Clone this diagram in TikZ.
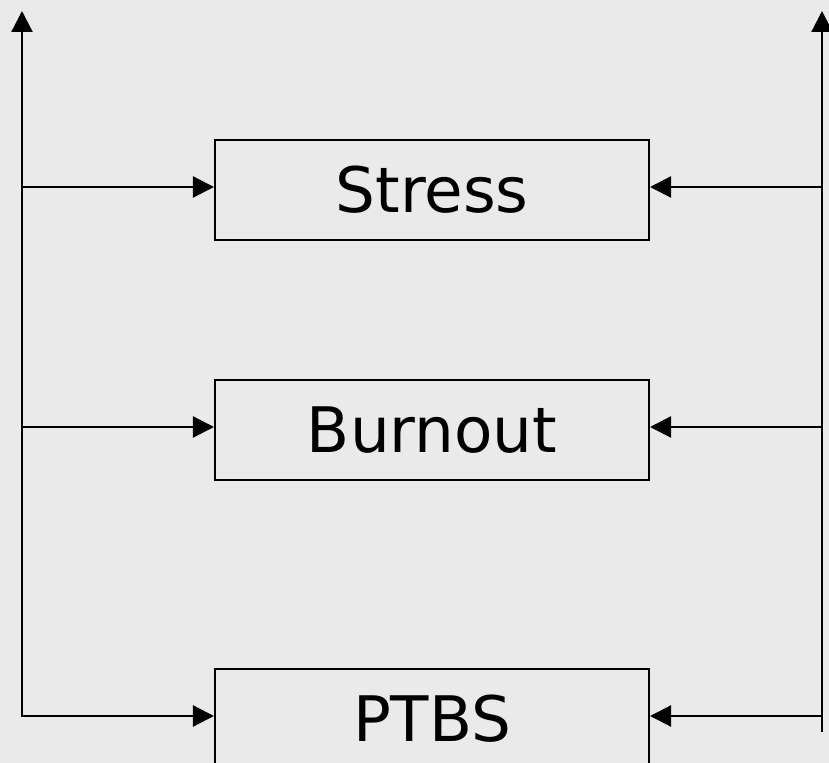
\documentclass[tikz,border=0pt]{standalone}
\usepackage{fontspec}
\setmainfont{DejaVu Sans}
\usetikzlibrary{arrows.meta}
\definecolor{bgc}{HTML}{EAEAEA}
\begin{document}
\begin{tikzpicture}[x=1bp,y=1bp,
  box/.style={draw, line width=2bp, minimum width=434bp, minimum height=100bp, inner sep=0pt, font=\fontsize{63}{70}\selectfont},
  tip/.tip={Triangle[length=21bp,width=21bp]},
  link/.style={line width=2.2bp, -tip}]
\useasboundingbox (0,0) rectangle (829,763);
\fill[bgc] (0,0) rectangle (829,763);
\clip (0,0) rectangle (829,763);
\node[box] (S) at (432,573) {Stress};
\node[box] (B) at (432,332.5) {Burnout};
\node[box] (P) at (432,44) {PTBS};
\coordinate (LT) at (22,752);
\coordinate (LS) at (22,576);
\coordinate (LBu) at (22,336);
\coordinate (LB) at (22,47);
\coordinate (RT) at (822,752);
\coordinate (RS) at (822,576);
\coordinate (RBu) at (822,336);
\coordinate (RP) at (822,47);
\coordinate (RB) at (822,31);
\draw[line width=2.2bp, tip-tip] (LT) -- (LB) -- (P.west |- LB);
\draw[link] (RB) -- (RT);
\draw[link] (LS) -- (S.west |- LS);
\draw[link] (LBu) -- (B.west |- LBu);
\draw[link] (RS) -- (S.east |- RS);
\draw[link] (RBu) -- (B.east |- RBu);
\draw[link] (RP) -- (P.east |- RP);
\end{tikzpicture}
\end{document}
